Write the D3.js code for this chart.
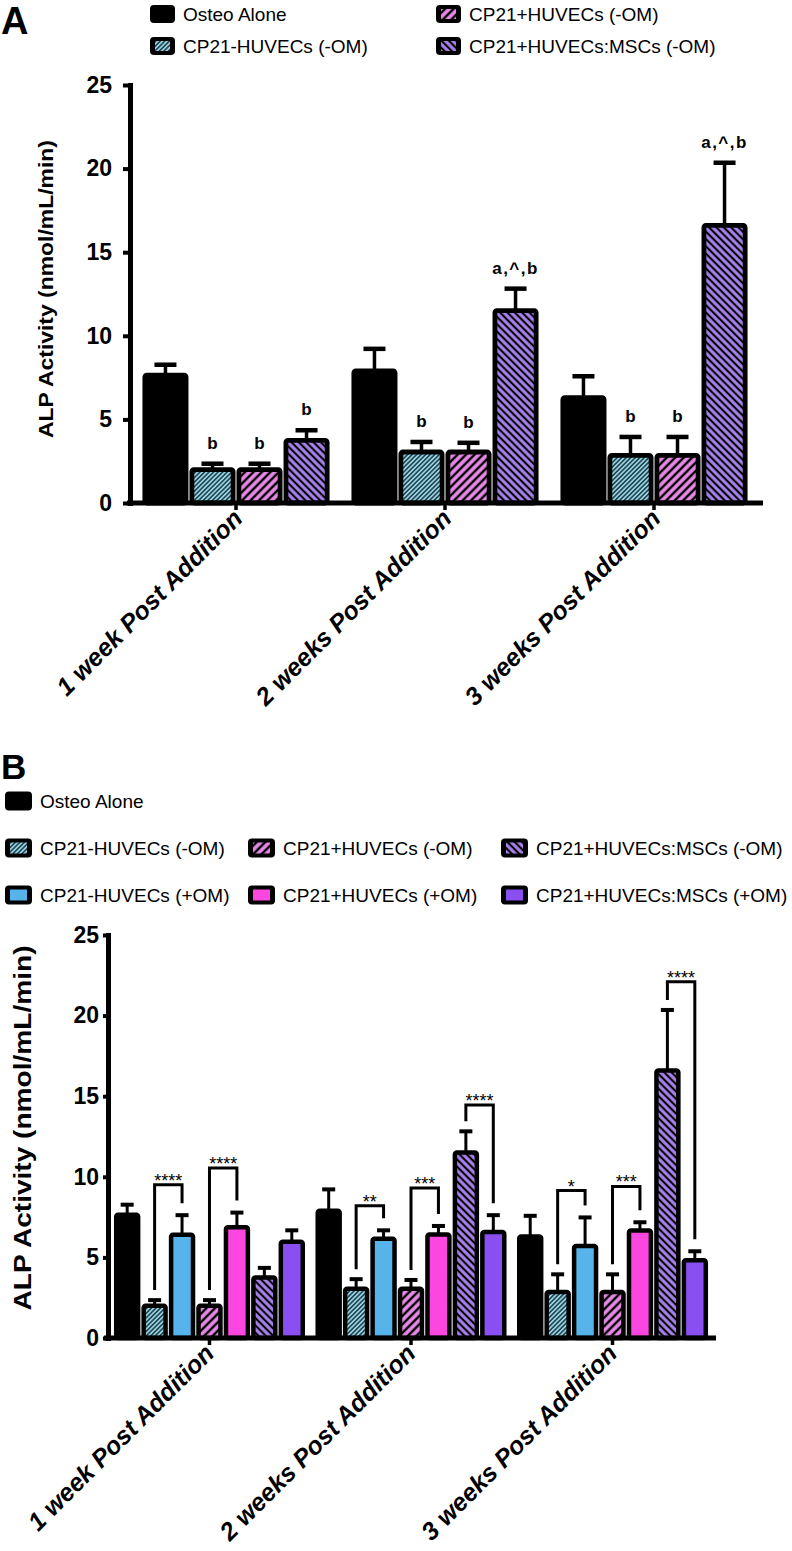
<!DOCTYPE html>
<html><head><meta charset="utf-8">
<script src="https://cdn.jsdelivr.net/npm/d3@7"></script>
<style>
body{margin:0;background:#fff}
svg{display:block}
text{font-family:"Liberation Sans",Arial,Helvetica,sans-serif;fill:#000}
</style>
</head><body>
<svg id="c" width="792" height="1551"></svg>
<script>
// ---------------- DATA ----------------
const categories = ["1 week Post Addition", "2 weeks Post Addition", "3 weeks Post Addition"];
const seriesNames = ["Osteo Alone", "CP21-HUVECs (-OM)", "CP21+HUVECs (-OM)", "CP21+HUVECs:MSCs (-OM)",
                     "CP21-HUVECs (+OM)", "CP21+HUVECs (+OM)", "CP21+HUVECs:MSCs (+OM)"];
const osteoMean = [7.65, 7.9, 6.3];
const osteoErr = [0.62, 1.32, 1.28];
const huvecMinusMean = [2.0, 3.05, 2.85];
const huvecMinusErr = [0.35, 0.6, 1.1];
const plusHuvecMinusMean = [2.0, 3.05, 2.85];
const plusHuvecMinusErr = [0.35, 0.55, 1.1];
const mscMinusMean = [3.75, 11.5, 16.6];
const mscMinusErr = [0.6, 1.32, 3.75];
const huvecPlusMean = [6.4, 6.15, 5.7];
const huvecPlusErr = [1.22, 0.53, 1.78];
const plusHuvecPlusMean = [6.87, 6.42, 6.67];
const plusHuvecPlusErr = [0.91, 0.53, 0.51];
const mscPlusMean = [5.97, 6.57, 4.82];
const mscPlusErr = [0.71, 1.05, 0.56];
const yTicks = [0, 5, 10, 15, 20, 25];
const yTitle = "ALP Activity (nmol/mL/min)";
// panel A significance letters: [category, series, text]
const lettersA = [
  [0, 1, "b"], [0, 2, "b"], [0, 3, "b"],
  [1, 1, "b"], [1, 2, "b"], [1, 3, "a,^,b"],
  [2, 1, "b"], [2, 2, "b"], [2, 3, "a,^,b"]
];
// panel B brackets: [category, left series, right series, bracket top value, stars]
const bracketsB = [
  [0, 1, 4, 9.5, "****"], [0, 2, 5, 10.55, "****"],
  [1, 1, 4, 8.2, "**"], [1, 2, 5, 9.3, "***"], [1, 3, 6, 14.45, "****"],
  [2, 1, 4, 9.15, "*"], [2, 2, 5, 9.4, "***"], [2, 3, 6, 22.1, "****"]
];
const panelASeries = [0, 1, 2, 3];
const panelBSeries = [0, 1, 4, 2, 5, 3, 6];

const means = [osteoMean, huvecMinusMean, plusHuvecMinusMean, mscMinusMean, huvecPlusMean, plusHuvecPlusMean, mscPlusMean];
const errs = [osteoErr, huvecMinusErr, plusHuvecMinusErr, mscMinusErr, huvecPlusErr, plusHuvecPlusErr, mscPlusErr];
const fills = ["#000", "url(#hCyan)", "url(#hPink)", "url(#hPurple)", "#56b4ea", "#fb46df", "#8a4ff0"];

const svg = d3.select("#c");
svg.append("rect").attr("width", 792).attr("height", 1551).attr("fill", "#fff");

// ---------------- PATTERNS ----------------
const defs = svg.append("defs");
function hatch(id, bg, spacing, lw, angle) {
  const p = defs.append("pattern").attr("id", id).attr("patternUnits", "userSpaceOnUse")
    .attr("width", spacing).attr("height", spacing).attr("patternTransform", `rotate(${angle})`);
  p.append("rect").attr("width", spacing).attr("height", spacing).attr("fill", bg);
  p.append("line").attr("x1", spacing / 2).attr("x2", spacing / 2).attr("y1", -1).attr("y2", spacing + 1)
    .attr("stroke", "#000").attr("stroke-width", lw);
}
hatch("hCyan", "#8fd6ea", 3.2, 1.1, 45);
hatch("hPink", "#e98ae9", 6.0, 2.4, 45);
hatch("hPurple", "#a982ee", 5.2, 2.1, -45);

// ---------------- PANEL DRAWING ----------------
function drawPanel(cfg) {
  const g = svg.append("g");
  const y = d3.scaleLinear().domain([0, 25]).range([cfg.y0, cfg.y25]);
  const x0 = d3.scaleBand().domain(categories).range(cfg.xRange)
    .paddingInner(cfg.padIn).paddingOuter(cfg.padOut);
  const x1 = d3.scaleBand().domain(cfg.series.map(String)).range([0, x0.bandwidth()]);
  const bw = x1.bandwidth();
  const cx = (ci, s) => x0(categories[ci]) + x1(String(s)) + bw / 2;

  const data = [];
  categories.forEach((c, ci) => cfg.series.forEach(s => data.push({ ci, s, v: means[s][ci], e: errs[s][ci] })));

  // error bars
  const eb = g.append("g");
  eb.selectAll("line.v").data(data).join("line")
    .attr("x1", d => cx(d.ci, d.s)).attr("x2", d => cx(d.ci, d.s))
    .attr("y1", d => y(d.v)).attr("y2", d => y(d.v + d.e))
    .attr("stroke", "#000").attr("stroke-width", cfg.errW);
  eb.selectAll("line.c").data(data).join("line")
    .attr("x1", d => cx(d.ci, d.s) - cfg.capW / 2).attr("x2", d => cx(d.ci, d.s) + cfg.capW / 2)
    .attr("y1", d => y(d.v + d.e)).attr("y2", d => y(d.v + d.e))
    .attr("stroke", "#000").attr("stroke-width", cfg.capT);

  // bars
  const sw = cfg.barStroke;
  g.append("g").selectAll("rect").data(data).join("rect")
    .attr("x", d => x0(categories[d.ci]) + x1(String(d.s)) + sw / 2 + 0.5)
    .attr("width", bw - sw - 1)
    .attr("y", d => y(d.v))
    .attr("height", d => y(0) - y(d.v))
    .attr("rx", 2)
    .attr("fill", d => fills[d.s])
    .attr("stroke", "#000").attr("stroke-width", sw).attr("stroke-linejoin", "round");

  // y axis
  const ya = g.append("g").attr("transform", `translate(${cfg.yAxisX},0)`)
    .call(d3.axisLeft(y).tickValues(yTicks).tickSize(cfg.tickLen).tickSizeOuter(0).tickPadding(cfg.tickPad));
  ya.select(".domain").attr("stroke-width", 5).attr("stroke-linecap", "square");
  ya.selectAll(".tick line").attr("stroke-width", 4);
  ya.selectAll(".tick text").attr("font-size", cfg.tickFont).attr("font-weight", "bold")
    .attr("font-family", "'Liberation Sans',Arial,sans-serif");

  // x axis
  const xa = g.append("g").attr("transform", `translate(0,${cfg.y0})`)
    .call(d3.axisBottom(x0).tickSize(7).tickSizeOuter(0).tickFormat(""));
  xa.select(".domain").remove();
  xa.selectAll(".tick line").attr("stroke-width", 3.5);
  g.append("line").attr("x1", cfg.xLine[0]).attr("x2", cfg.xLine[1])
    .attr("y1", cfg.y0).attr("y2", cfg.y0).attr("stroke", "#000").attr("stroke-width", 5);

  // x labels
  g.append("g").selectAll("text").data(categories).join("text")
    .attr("transform", c => `translate(${x0(c) + x0.bandwidth() / 2 + cfg.lblDx},${cfg.y0 + cfg.lblDy}) rotate(-45)`)
    .attr("text-anchor", "end").attr("font-size", cfg.xFont).attr("font-weight", "bold").attr("font-style", "italic")
    .text(c => c);

  // y title
  g.append("text")
    .attr("transform", `translate(${cfg.titleX},${cfg.titleY}) rotate(-90)`)
    .attr("text-anchor", "middle").attr("dy", "0.35em")
    .attr("font-size", cfg.titleFont).attr("font-weight", "bold")
    .attr("textLength", cfg.titleLen).attr("lengthAdjust", "spacingAndGlyphs")
    .text(yTitle);

  return { g, y, cx };
}

// legend swatch
function swatch(g, x, yc, w, h, s) {
  g.append("rect").attr("x", x).attr("y", yc - h / 2).attr("width", w).attr("height", h)
    .attr("rx", 4).attr("fill", "#000");
  if (s > 0) {
    g.append("rect").attr("x", x + 5).attr("y", yc - h / 2 + 4).attr("width", w - 10).attr("height", h - 8)
      .attr("fill", fills[s]);
  }
}
function legend(items, w, h, font) {
  const g = svg.append("g");
  items.forEach(([s, x, yc]) => {
    swatch(g, x, yc, w, h, s);
    g.append("text").attr("x", x + w + 8).attr("y", yc).attr("dy", "0.36em")
      .attr("font-size", font).text(seriesNames[s]);
  });
}

// ---------------- PANEL A ----------------
svg.append("text").attr("x", 1).attr("y", 34).attr("font-size", 38).attr("font-weight", "bold").text("A");
legend([[0, 150, 14], [1, 150, 46], [2, 436, 14], [3, 436, 46]], 25, 18, 19);

const A = drawPanel({
  series: panelASeries, y0: 503, y25: 85, xRange: [131.5, 758.5], padIn: 0.1, padOut: 0.05,
  errW: 3.5, capW: 22, capT: 4.5, barStroke: 4.8, yAxisX: 130, tickLen: 7, tickPad: 11, tickFont: 23,
  xLine: [127, 763], lblDx: 8, lblDy: 17, xFont: 25, titleX: 46, titleY: 289, titleFont: 20, titleLen: 298
});
A.g.append("g").selectAll("text").data(lettersA).join("text")
  .attr("x", d => A.cx(d[0], d[1]))
  .attr("y", d => A.y(means[d[1]][d[0]] + errs[d[1]][d[0]]) - 15)
  .attr("text-anchor", "middle").attr("font-size", 17).attr("font-weight", "bold")
  .attr("letter-spacing", d => d[2].length > 1 ? 1.5 : 0)
  .text(d => d[2]);

// ---------------- PANEL B ----------------
svg.append("text").attr("x", 1).attr("y", 779).attr("font-size", 35).attr("font-weight", "bold").text("B");
legend([[0, 5, 801], [1, 5, 848], [2, 248, 848], [3, 501, 848], [4, 5, 895], [5, 248, 895], [6, 501, 895]], 27, 19, 19);

const B = drawPanel({
  series: panelBSeries, y0: 1338, y25: 935, xRange: [105.4, 716.6], padIn: 0.047, padOut: 0.04,
  errW: 3, capW: 13, capT: 4, barStroke: 4.5, yAxisX: 108, tickLen: 5, tickPad: 4, tickFont: 23,
  xLine: [104, 716], lblDx: 6, lblDy: 17, xFont: 25, titleX: 23, titleY: 1128, titleFont: 23, titleLen: 365
});
const br = B.g.append("g");
bracketsB.forEach(([ci, sl, sr, top, lab]) => {
  const xl = B.cx(ci, sl), xr = B.cx(ci, sr);
  const yl = B.y(means[sl][ci] + errs[sl][ci]) - 10;
  const yr = B.y(means[sr][ci] + errs[sr][ci]) - 12;
  const yt = B.y(top);
  br.append("path").attr("d", `M${xl},${yl}V${yt}H${xr}V${yr}`)
    .attr("fill", "none").attr("stroke", "#000").attr("stroke-width", 3);
  br.append("text").attr("x", (xl + xr) / 2).attr("y", yt + 2).attr("text-anchor", "middle")
    .attr("font-size", 18).text(lab);
});
</script>
</body></html>
